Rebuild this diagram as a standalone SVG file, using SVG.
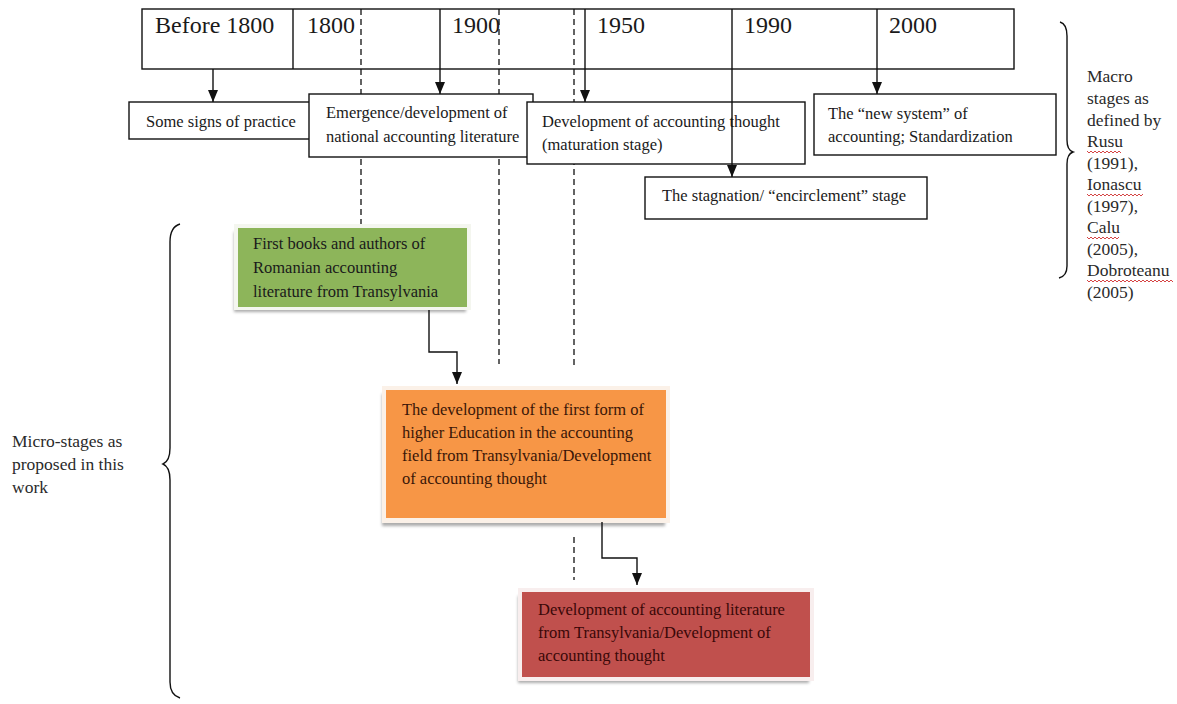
<svg xmlns="http://www.w3.org/2000/svg" width="1177" height="704" viewBox="0 0 1177 704">
<defs>
<style>
.bx{fill:#fff;stroke:#111;stroke-width:1.4}
.ln{stroke:#111;stroke-width:1.4;fill:none}
.dash{stroke:#222;stroke-width:1.4;stroke-dasharray:6 4;fill:none}
.yr{font-family:"Liberation Serif",serif;font-size:24px;fill:#1a1a1a}
.t{font-family:"Liberation Serif",serif;font-size:16.5px;fill:#1a1a1a}
.side{font-family:"Liberation Serif",serif;font-size:17.5px;fill:#2a2a2a}
.wavy{stroke:#d03030;stroke-width:0.9;fill:none}
</style>
<marker id="ah" viewBox="0 0 12 10" refX="12" refY="5" markerWidth="12" markerHeight="10" markerUnits="userSpaceOnUse" orient="auto">
<path d="M0,0 L12,5 L0,10 Z" fill="#111"/>
</marker>
<filter id="sh" x="-10%" y="-10%" width="120%" height="130%">
<feGaussianBlur stdDeviation="1.5"/>
</filter>
</defs>
<rect width="1177" height="704" fill="#fff"/>

<g id="dashed-lines">
<line class="dash" x1="361" y1="9" x2="361" y2="226"/>
<line class="dash" x1="499" y1="9" x2="499" y2="364"/>
<line class="dash" x1="574" y1="9" x2="574" y2="365"/>
<line class="dash" x1="574" y1="537" x2="574" y2="580"/>
</g>

<g id="timeline">
<rect x="142" y="9" width="872" height="60" fill="none" stroke="#111" stroke-width="1.4"/>
<line class="ln" x1="293" y1="9" x2="293" y2="69"/>
<text class="yr" x="155" y="33">Before 1800</text>
<text class="yr" x="307" y="33">1800</text>
<text class="yr" x="452" y="33">1900</text>
<text class="yr" x="597" y="33">1950</text>
<text class="yr" x="744" y="33">1990</text>
<text class="yr" x="889" y="33">2000</text>
</g>

<g id="node-some-signs">
<rect class="bx" x="129" y="102" width="190" height="37"/>
<text class="t" x="146" y="127">Some signs of practice</text>
</g>
<g id="node-emergence">
<rect class="bx" x="309" y="94" width="224" height="63"/>
<text class="t" x="326" y="118">Emergence/development of</text>
<text class="t" x="326" y="142">national accounting literature</text>
</g>
<g id="node-development">
<rect class="bx" x="527" y="102" width="278" height="62"/>
<text class="t" x="542" y="127">Development of accounting thought</text>
<text class="t" x="542" y="150">(maturation stage)</text>
</g>
<g id="node-stagnation">
<rect class="bx" x="645" y="177" width="282" height="42"/>
<text class="t" x="662" y="201">The stagnation/ “encirclement” stage</text>
</g>
<g id="node-new-system">
<rect class="bx" x="814" y="94" width="242" height="61"/>
<text class="t" x="828" y="119">The “new system” of</text>
<text class="t" x="828" y="142">accounting; Standardization</text>
</g>

<g id="node-green">
<rect x="234" y="232" width="232" height="80" fill="#888" opacity="0.7" filter="url(#sh)"/>
<rect x="234" y="224" width="237" height="86" fill="#f4f6ef"/>
<rect x="238" y="228" width="229" height="79" fill="#8db55a"/>
<text class="t" x="253" y="249">First books and authors of</text>
<text class="t" x="253" y="273">Romanian accounting</text>
<text class="t" x="253" y="297">literature from Transylvania</text>
</g>
<g id="node-orange">
<rect x="382" y="394" width="283" height="132" fill="#888" opacity="0.7" filter="url(#sh)"/>
<rect x="382" y="386" width="288" height="137" fill="#fbf1e8"/>
<rect x="386" y="390" width="280" height="128" fill="#f79646"/>
<text class="t" x="402" y="415" style="fill:#3b1608">The development of the first form of</text>
<text class="t" x="402" y="438" style="fill:#3b1608">higher Education in the accounting</text>
<text class="t" x="402" y="461" style="fill:#3b1608">field from Transylvania/Development</text>
<text class="t" x="402" y="484" style="fill:#3b1608">of accounting thought</text>
</g>
<g id="node-red">
<rect x="518" y="596" width="291" height="87" fill="#888" opacity="0.7" filter="url(#sh)"/>
<rect x="518" y="588" width="296" height="93" fill="#f8eeee"/>
<rect x="522" y="592" width="288" height="85" fill="#c0504d"/>
<text class="t" x="538" y="615" style="fill:#3a0808">Development of accounting literature</text>
<text class="t" x="538" y="638" style="fill:#3a0808">from Transylvania/Development of</text>
<text class="t" x="538" y="661" style="fill:#3a0808">accounting thought</text>
</g>

<g id="connectors">
<line class="ln" x1="440" y1="9" x2="440" y2="94" marker-end="url(#ah)"/>
<line class="ln" x1="585" y1="9" x2="585" y2="102" marker-end="url(#ah)"/>
<line class="ln" x1="732" y1="9" x2="732" y2="177" marker-end="url(#ah)"/>
<line class="ln" x1="877" y1="9" x2="877" y2="94" marker-end="url(#ah)"/>
<line class="ln" x1="213" y1="69" x2="213" y2="102" marker-end="url(#ah)"/>
<path class="ln" d="M429,310 L429,352 L457,352 L457,384" marker-end="url(#ah)"/>
<path class="ln" d="M602,522 L602,558 L637,558 L637,585" marker-end="url(#ah)"/>
</g>

<g id="brace-macro">
<path class="ln" d="M1060,22 Q1067,24 1067,36 L1067,140 Q1067,150 1073,152 Q1067,154 1067,164 L1067,266 Q1067,276 1059,278"/>
<text class="side" x="1087" y="82">Macro</text>
<text class="side" x="1087" y="104">stages as</text>
<text class="side" x="1087" y="126">defined by</text>
<text class="side" x="1087" y="147">Rusu</text>
<text class="side" x="1087" y="169">(1991),</text>
<text class="side" x="1087" y="190">Ionascu</text>
<text class="side" x="1087" y="212">(1997),</text>
<text class="side" x="1087" y="233">Calu</text>
<text class="side" x="1087" y="255">(2005),</text>
<text class="side" x="1087" y="276">Dobroteanu</text>
<text class="side" x="1087" y="298">(2005)</text>
<path class="wavy" d="M1087,151 l2,2 l2,-2 l2,2 l2,-2 l2,2 l2,-2 l2,2 l2,-2 l2,2 l2,-2 l2,2 l2,-2 l2,2 l2,-2 l2,2 l2,-2 l2,2"/>
<path class="wavy" d="M1087,194 l2,2 l2,-2 l2,2 l2,-2 l2,2 l2,-2 l2,2 l2,-2 l2,2 l2,-2 l2,2 l2,-2 l2,2 l2,-2 l2,2 l2,-2 l2,2 l2,-2 l2,2 l2,-2 l2,2 l2,-2 l2,2 l2,-2 l2,2 l2,-2 l2,2 l2,-2"/>
<path class="wavy" d="M1087,237 l2,2 l2,-2 l2,2 l2,-2 l2,2 l2,-2 l2,2 l2,-2 l2,2 l2,-2 l2,2 l2,-2 l2,2 l2,-2 l2,2 l2,-2"/>
<path class="wavy" d="M1087,280 l2,2 l2,-2 l2,2 l2,-2 l2,2 l2,-2 l2,2 l2,-2 l2,2 l2,-2 l2,2 l2,-2 l2,2 l2,-2 l2,2 l2,-2 l2,2 l2,-2 l2,2 l2,-2 l2,2 l2,-2 l2,2 l2,-2 l2,2 l2,-2 l2,2 l2,-2 l2,2 l2,-2 l2,2 l2,-2 l2,2 l2,-2 l2,2 l2,-2 l2,2 l2,-2 l2,2 l2,-2 l2,2 l2,-2 l2,2"/>
</g>

<g id="brace-micro">
<path class="ln" d="M180,224 Q170,227 170,242 L170,448 Q170,461 163,464 Q170,467 170,480 L170,682 Q170,695 180,698"/>
<text class="side" x="12" y="447">Micro-stages as</text>
<text class="side" x="12" y="470">proposed in this</text>
<text class="side" x="12" y="493">work</text>
</g>
</svg>
